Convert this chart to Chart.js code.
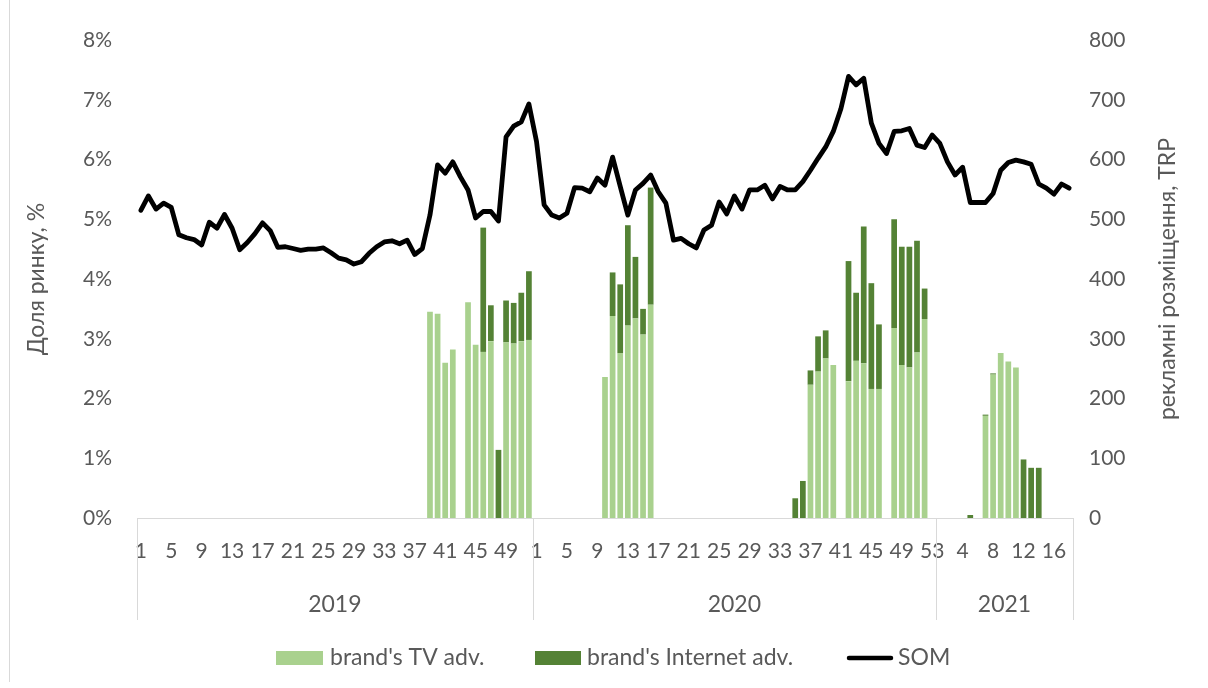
<!DOCTYPE html>
<html>
<head>
<meta charset="utf-8">
<script src="https://cdn.jsdelivr.net/npm/chart.js@4.4.1/dist/chart.umd.min.js"></script>
<style>
  html, body { margin: 0; padding: 0; background: #ffffff; }
  #wrap { width: 1208px; height: 688px; position: relative; }
</style>
</head>
<body>
<div id="wrap"><canvas id="chart" width="1208" height="688"></canvas></div>
<script>
// ---- data -------------------------------------------------------------
const years = ['2019', '2020', '2021'];
const weeksPerYear = [52, 53, 18];

// share of market, %
const som2019 = [5.15, 5.39, 5.17, 5.27, 5.20, 4.74, 4.69, 4.66, 4.57, 4.95,
                 4.85, 5.08, 4.85, 4.49, 4.61, 4.76, 4.94, 4.81, 4.53, 4.54,
                 4.51, 4.48, 4.50, 4.50, 4.52, 4.44, 4.35, 4.32, 4.25, 4.29,
                 4.43, 4.54, 4.62, 4.64, 4.59, 4.65, 4.41, 4.51, 5.07, 5.91,
                 5.77, 5.96, 5.71, 5.49, 5.02, 5.13, 5.13, 4.97, 6.38, 6.56,
                 6.63, 6.93];
const som2020 = [6.30, 5.24, 5.07, 5.02, 5.10, 5.53, 5.52, 5.46, 5.69, 5.57,
                 6.04, 5.55, 5.07, 5.49, 5.60, 5.74, 5.46, 5.27, 4.65, 4.68,
                 4.59, 4.52, 4.82, 4.90, 5.29, 5.09, 5.39, 5.17, 5.49, 5.49,
                 5.57, 5.34, 5.55, 5.49, 5.49, 5.63, 5.82, 6.02, 6.21, 6.47,
                 6.85, 7.39, 7.25, 7.36, 6.61, 6.27, 6.10, 6.47, 6.48, 6.52,
                 6.24, 6.20, 6.41];
const som2021 = [6.27, 5.96, 5.74, 5.87, 5.28, 5.28, 5.28, 5.43, 5.82, 5.95,
                 5.99, 5.96, 5.92, 5.59, 5.52, 5.42, 5.59, 5.52];

// TV placements, TRP
const tv2019 = [0, 0, 0, 0, 0, 0, 0, 0, 0, 0,
                0, 0, 0, 0, 0, 0, 0, 0, 0, 0,
                0, 0, 0, 0, 0, 0, 0, 0, 0, 0,
                0, 0, 0, 0, 0, 0, 0, 0, 345, 342,
                260, 282, 0, 361, 290, 278, 296, 0, 294, 292,
                296, 298];
const tv2020 = [0, 0, 0, 0, 0, 0, 0, 0, 0, 236,
                338, 276, 322, 334, 307, 357, 0, 0, 0, 0,
                0, 0, 0, 0, 0, 0, 0, 0, 0, 0,
                0, 0, 0, 0, 0, 0, 223, 245, 267, 256,
                0, 229, 263, 259, 216, 216, 0, 318, 256, 252,
                277, 333, 0];
const tv2021 = [0, 0, 0, 0, 0, 0, 171, 240, 276, 262,
                252, 0, 0, 0, 0, 0, 0, 0];

// Internet placements, TRP
const web2019 = [0, 0, 0, 0, 0, 0, 0, 0, 0, 0,
                 0, 0, 0, 0, 0, 0, 0, 0, 0, 0,
                 0, 0, 0, 0, 0, 0, 0, 0, 0, 0,
                 0, 0, 0, 0, 0, 0, 0, 0, 0, 0,
                 0, 0, 0, 0, 0, 208, 60, 114, 70, 68,
                 81, 115];
const web2020 = [0, 0, 0, 0, 0, 0, 0, 0, 0, 0,
                 73, 115, 168, 103, 43, 196, 0, 0, 0, 0,
                 0, 0, 0, 0, 0, 0, 0, 0, 0, 0,
                 0, 0, 0, 0, 33, 62, 24, 59, 47, 0,
                 0, 201, 114, 229, 177, 108, 0, 182, 198, 202,
                 187, 51, 0];
const web2021 = [0, 0, 0, 0, 5, 0, 2, 2, 0, 0,
                 0, 98, 84, 84, 0, 0, 0, 0];

// ---- derived series ---------------------------------------------------
const categories = [];
const weekLabels = [];
years.forEach((y, k) => {
  for (let w = 1; w <= weeksPerYear[k]; w++) {
    categories.push(y + '-' + w);
    weekLabels.push(String(w));
  }
});
const som = som2019.concat(som2020, som2021);
const tv = tv2019.concat(tv2020, tv2021);
const web = web2019.concat(web2020, web2021);

// ---- styling ----------------------------------------------------------
const FONT = 'Lato, "Open Sans", sans-serif';
const TEXT = '#595959';
const RULE = '#d9d9d9';
const TV_COLOR = '#a9d18e';
const WEB_COLOR = '#548235';

// axis titles, year groups, separators and legend
const decorations = {
  id: 'decorations',
  afterDraw(chart) {
    const { ctx, chartArea: a, scales } = chart;
    const xs = scales.x;
    ctx.save();

    const seg = (x1, y1, x2, y2) => {
      ctx.beginPath(); ctx.moveTo(x1, y1); ctx.lineTo(x2, y2); ctx.stroke();
    };

    ctx.strokeStyle = RULE;
    ctx.lineWidth = 1;
    // frame edge
    seg(9.5, 0, 9.5, 682);
    // category axis line
    seg(a.left, a.bottom + 0.5, a.right, a.bottom + 0.5);

    // year group boundaries
    const bounds = [a.left];
    let end = 0;
    weeksPerYear.forEach((n, k) => {
      end += n;
      if (k < weeksPerYear.length - 1) {
        bounds.push((xs.getPixelForValue(end - 1) + xs.getPixelForValue(end)) / 2);
      } else {
        bounds.push(a.right);
      }
    });
    bounds.forEach(bx => seg(Math.round(bx) + 0.5, a.bottom, Math.round(bx) + 0.5, a.bottom + 102));

    ctx.fillStyle = TEXT;
    ctx.font = '23px ' + FONT;
    ctx.textAlign = 'center';
    ctx.textBaseline = 'middle';
    years.forEach((y, k) => {
      ctx.fillText(y, (bounds[k] + bounds[k + 1]) / 2, a.bottom + 87);
    });

    // axis titles, both reading bottom to top
    const vtitle = (text, cx, cy) => {
      ctx.save();
      ctx.translate(cx, cy);
      ctx.rotate(-Math.PI / 2);
      ctx.fillText(text, 0, 0);
      ctx.restore();
    };
    const midY = (a.top + a.bottom) / 2;
    vtitle('Доля ринку, %', 37, midY);
    vtitle('рекламні розміщення, TRP', 1168, midY);

    // legend
    const ly = 658;
    ctx.textAlign = 'left';
    ctx.fillStyle = TV_COLOR;
    ctx.fillRect(276, ly - 7, 47, 14);
    ctx.fillStyle = WEB_COLOR;
    ctx.fillRect(535, ly - 7, 46, 14);
    ctx.strokeStyle = '#000000';
    ctx.lineWidth = 4.5;
    ctx.lineCap = 'round';
    seg(849, ly, 891, ly);
    ctx.fillStyle = TEXT;
    ctx.font = '23px ' + FONT;
    ctx.fillText("brand's TV adv.", 330, ly);
    ctx.fillText("brand's Internet adv.", 587, ly);
    ctx.fillText('SOM', 898, ly);

    ctx.restore();
  }
};

const tickFont = { family: FONT, size: 21 };

new Chart(document.getElementById('chart'), {
  type: 'bar',
  data: {
    labels: categories,
    datasets: [
      {
        type: 'line',
        label: 'SOM',
        data: som,
        yAxisID: 'y',
        borderColor: '#000000',
        borderWidth: 4.8,
        borderJoinStyle: 'round',
        borderCapStyle: 'round',
        pointRadius: 0,
        tension: 0,
        fill: false,
        order: 0
      },
      {
        label: "brand's TV adv.",
        data: tv,
        yAxisID: 'y1',
        backgroundColor: TV_COLOR,
        barPercentage: 1,
        categoryPercentage: 0.75,
        order: 1
      },
      {
        label: "brand's Internet adv.",
        data: web,
        yAxisID: 'y1',
        backgroundColor: WEB_COLOR,
        barPercentage: 1,
        categoryPercentage: 0.75,
        order: 2
      }
    ]
  },
  options: {
    responsive: false,
    animation: false,
    devicePixelRatio: 1,
    layout: { padding: { top: 40, left: 0, right: 0, bottom: 0 } },
    plugins: {
      legend: { display: false },
      tooltip: { enabled: false }
    },
    scales: {
      x: {
        type: 'category',
        stacked: true,
        offset: true,
        grid: { display: false, drawTicks: false },
        border: { display: false },
        ticks: {
          autoSkip: false,
          maxRotation: 0,
          minRotation: 0,
          padding: 21,
          color: TEXT,
          font: { family: FONT, size: 21 },
          callback: (v, i) => (i % 4 === 0 ? weekLabels[i] : '')
        },
        afterFit: s => { s.height = 170; }
      },
      y: {
        position: 'left',
        min: 0,
        max: 8,
        grid: { display: false, drawTicks: false },
        border: { display: false },
        ticks: {
          stepSize: 1,
          padding: 25,
          color: TEXT,
          font: tickFont,
          callback: v => v + '%'
        },
        afterFit: s => { s.width = 137; }
      },
      y1: {
        position: 'right',
        min: 0,
        max: 800,
        stacked: true,
        grid: { display: false, drawTicks: false },
        border: { display: false },
        ticks: {
          stepSize: 100,
          padding: 16,
          color: TEXT,
          font: tickFont
        },
        afterFit: s => { s.width = 135; }
      }
    }
  },
  plugins: [decorations]
});
</script>
</body>
</html>
